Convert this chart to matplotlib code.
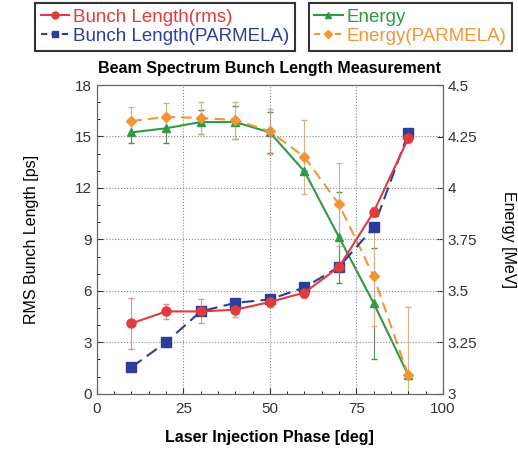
import matplotlib
matplotlib.use("Agg")
import matplotlib.pyplot as plt
from matplotlib.lines import Line2D
from matplotlib.ticker import MultipleLocator, AutoMinorLocator

plt.rcParams['font.family'] = ['Liberation Sans', 'DejaVu Sans']

# data
phase = [10, 20, 30, 40, 50, 60, 70, 80, 90]
bunch_rms = [4.1, 4.8, 4.8, 4.9, 5.35, 5.9, 7.4, 10.6, 14.9]
bunch_rms_err = [1.5, 0.45, 0.7, 0.45, 0.3, 0.3, 0.3, 0.3, 0.3]
bunch_parmela = [1.55, 3.0, 4.8, 5.3, 5.5, 6.2, 7.4, 9.7, 15.2]
energy = [4.27, 4.29, 4.32, 4.32, 4.27, 4.08, 3.76, 3.44, 3.09]
energy_err = [0.05, 0.07, 0.06, 0.08, 0.1, 0.0, 0.22, 0.27, 0.0]
energy_parmela = [4.325, 4.345, 4.34, 4.33, 4.275, 4.15, 3.92, 3.57, 3.09]
energy_parmela_err = [0.07, 0.07, 0.08, 0.09, 0.11, 0.18, 0.2, 0.24, 0.33]

red = '#e23b3b'
blue = '#2b3e9c'
green = '#2f9a45'
orange = '#f29536'

fig = plt.figure(figsize=(5.18, 4.5), dpi=100)
ax = fig.add_axes([0.187, 0.125, 0.668, 0.686])
ax2 = ax.twinx()

# energy on right axis
ax2.errorbar(phase, energy, yerr=energy_err, color=green, ecolor='#5a8a5a',
             elinewidth=0.8, capsize=2, marker='^', markersize=6, lw=1.5, zorder=3)
ax2.errorbar(phase, energy_parmela, yerr=energy_parmela_err, color=orange,
             ecolor='#d9b08a', elinewidth=0.8, capsize=2, marker='D',
             markersize=5, lw=1.5, ls=(0, (5, 3)), zorder=3)

# bunch length on left axis
ax.errorbar(phase, bunch_rms, yerr=bunch_rms_err, color=red, ecolor='#e89090',
            elinewidth=0.8, capsize=2, marker='o', markersize=6.5, lw=1.5, zorder=4)
ax.plot(phase, bunch_parmela, color=blue, marker='s', markersize=7, lw=1.5,
        ls=(0, (6, 3)), zorder=4)

ax.set_zorder(ax2.get_zorder() + 1)
ax.patch.set_visible(False)

ax.set_xlim(0, 100)
ax.set_ylim(0, 18)
ax2.set_ylim(3, 4.5)
ax.xaxis.set_major_locator(MultipleLocator(25))
ax.yaxis.set_major_locator(MultipleLocator(3))
ax2.set_yticks([3, 3.25, 3.5, 3.75, 4, 4.25, 4.5])
ax2.set_yticklabels(['3', '3.25', '3.5', '3.75', '4', '4.25', '4.5'])
for a in (ax, ax2):
    a.tick_params(labelsize=11, direction='in', length=4, colors='#333333')
ax.xaxis.set_minor_locator(AutoMinorLocator(5))
ax.yaxis.set_minor_locator(AutoMinorLocator(3))
ax.tick_params(which='minor', direction='in', length=2)
ax.tick_params(axis='x', pad=6)
ax.grid(True, ls=':', color='#888888', lw=0.8)
for s in list(ax.spines.values()) + list(ax2.spines.values()):
    s.set_color('#666666')

ax.set_xlabel('Laser Injection Phase [deg]', fontsize=11.5, fontweight='bold', labelpad=10)
ax.set_ylabel('RMS Bunch Length [ps]', fontsize=11.5, labelpad=26)
ax2.set_ylabel('Energy [MeV]', fontsize=11.5, rotation=270, labelpad=28)
ax.set_title('Beam Spectrum Bunch Length Measurement', fontsize=11.5,
             fontweight='bold', pad=9)

# legend proxies (no error bars in the key)
h1 = [Line2D([], [], color=red, marker='o', markersize=5, lw=1.5),
      Line2D([], [], color=blue, marker='s', markersize=5, lw=1.5, ls=(0, (3, 2)))]
h2 = [Line2D([], [], color=green, marker='^', markersize=5, lw=1.5),
      Line2D([], [], color=orange, marker='D', markersize=4, lw=1.5, ls=(0, (3, 2)))]
leg_kw = dict(fontsize=13.5, frameon=True, fancybox=False, edgecolor='black',
              handlelength=1.5, handletextpad=0.2, borderpad=0.3,
              labelspacing=0.1, borderaxespad=0)

leg1 = fig.legend(handles=h1, labels=['Bunch Length(rms)', 'Bunch Length(PARMELA)'],
                  loc='upper left', bbox_to_anchor=(0.068, 0.993), **leg_kw)
for t, c in zip(leg1.get_texts(), [red, blue]):
    t.set_color(c)
leg1.get_frame().set_linewidth(1.5)

leg2 = fig.legend(handles=h2, labels=['Energy', 'Energy(PARMELA)'],
                  loc='upper right', bbox_to_anchor=(0.988, 0.993), **leg_kw)
for t, c in zip(leg2.get_texts(), [green, orange]):
    t.set_color(c)
leg2.get_frame().set_linewidth(1.5)

fig.savefig('out.png', dpi=100)
